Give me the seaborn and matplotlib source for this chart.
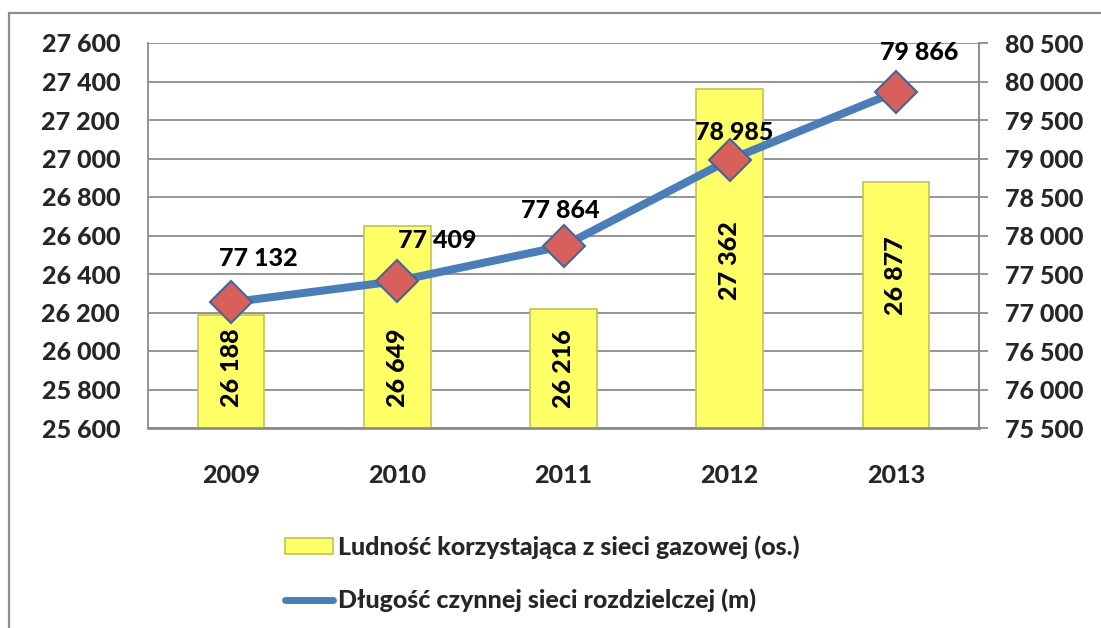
import numpy as np
import pandas as pd
import matplotlib
matplotlib.use("Agg")
import matplotlib.pyplot as plt
import seaborn as sns
from matplotlib.patches import Patch, Rectangle
from matplotlib.lines import Line2D
from matplotlib.ticker import FuncFormatter

# ---- data ----
years = ["2009", "2010", "2011", "2012", "2013"]
population = [26188, 26649, 26216, 27362, 26877]
network_length = [77132, 77409, 77864, 78985, 79866]
left_ticks = list(range(25600, 27601, 200))
right_ticks = list(range(75500, 80501, 500))
legend_labels = ["Ludność korzystająca z sieci gazowej (os.)",
                 "Długość czynnej sieci rozdzielczej (m)"]

# label placement (styling)
bar_label_anchor = [25911, 25911, 25911, 26470, 26393]
line_label_offsets_px = [(27, 44), (40, 41), (-3, 35), (4, 27), (23, 39)]

BAR_FACE = "#FFFF66"
BAR_EDGE = "#C4C44E"
LINE_COL = "#4A7EBB"
MARK_FACE = "#D9605A"
MARK_EDGE = "#41689A"
GRID = "#8C8C8C"
FS = 18
FW = 900

sns.set_theme(style="white")
plt.rcParams["font.family"] = ["Lato", "DejaVu Sans"]
plt.rcParams["font.weight"] = FW

W, H = 1101, 628
fig = plt.figure(figsize=(W / 100, H / 100), dpi=100)
ax = fig.add_axes([148 / W, 1 - 428 / H, (979 - 148) / W, (428 - 43) / H])

df = pd.DataFrame({"Rok": years, "Ludnosc": population, "Dlugosc": network_length})

def spaced(v, pos=None):
    return f"{v:,.0f}".replace(",", " ")

sns.barplot(data=df, x="Rok", y="Ludnosc", ax=ax, color=BAR_FACE, saturation=1,
            width=0.40, edgecolor=BAR_EDGE, linewidth=1.2, zorder=2)
ax.set_ylim(25600, 27600)
ax.set_yticks(left_ticks)
ax.yaxis.set_major_formatter(FuncFormatter(spaced))
ax.grid(axis="y", color=GRID, lw=1.3, zorder=0)
ax.set_axisbelow(True)
ax.set_xlabel("")
ax.set_ylabel("")
ax.tick_params(axis="y", length=0, pad=20, labelsize=FS)
ax.tick_params(axis="x", length=0, pad=26, labelsize=FS)
for lab in ax.get_xticklabels() + ax.get_yticklabels():
    lab.set_fontweight(FW)
for side in ["left", "right", "bottom"]:
    ax.spines[side].set_color(GRID)
ax.spines["left"].set_linewidth(1.3)
ax.spines["bottom"].set_linewidth(2)
ax.spines["top"].set_visible(False)

for i, (v, a) in enumerate(zip(population, bar_label_anchor)):
    ax.text(i, a, spaced(v), rotation=90, ha="center", va="center",
            fontsize=FS, fontweight=FW, color="black", zorder=3)

ax2 = ax.twinx()
sns.lineplot(x=np.arange(len(years)), y=network_length, ax=ax2, color=LINE_COL,
             lw=5.8, marker="D", markersize=21, markerfacecolor=MARK_FACE,
             markeredgecolor=MARK_EDGE, markeredgewidth=1.5, zorder=4)
ax.set_xlim(-0.5, len(years) - 0.5)
ax2.set_ylim(75500, 80500)
ax2.set_yticks(right_ticks)
ax2.yaxis.set_major_formatter(FuncFormatter(spaced))
ax2.tick_params(axis="y", length=6.5, width=1.3, color=GRID, pad=12, labelsize=FS)
for lab in ax2.get_yticklabels():
    lab.set_fontweight(FW)
ax2.set_ylabel("")
ax2.set_xlabel("")
for side in ["left", "top", "bottom"]:
    ax2.spines[side].set_visible(False)
ax2.spines["right"].set_color(GRID)
ax2.spines["right"].set_linewidth(1.3)

for i, (v, (dx, dy)) in enumerate(zip(network_length, line_label_offsets_px)):
    ax2.annotate(spaced(v), (i, v), xytext=(dx * 0.72, dy * 0.72),
                 textcoords="offset points", ha="center", va="center",
                 fontsize=FS, fontweight=FW, color="black", zorder=5)

handles = [Patch(facecolor=BAR_FACE, edgecolor=BAR_EDGE, linewidth=1.2),
           Line2D([0], [0], color=LINE_COL, lw=5)]
fig.legend(handles, legend_labels, loc="upper left",
           bbox_to_anchor=(285 / W, 1 - 535 / H), frameon=False,
           prop={"size": FS, "weight": FW}, handlelength=1.9,
           handleheight=0.6, handletextpad=0.2, labelspacing=1.2,
           borderpad=0, borderaxespad=0)

fig.add_artist(Rectangle((9 / W, -0.1), 1.2, 1.1 - 13 / H, transform=fig.transFigure,
                         fill=False, edgecolor=GRID, lw=1.6))

fig.savefig("out.png", dpi=100)
